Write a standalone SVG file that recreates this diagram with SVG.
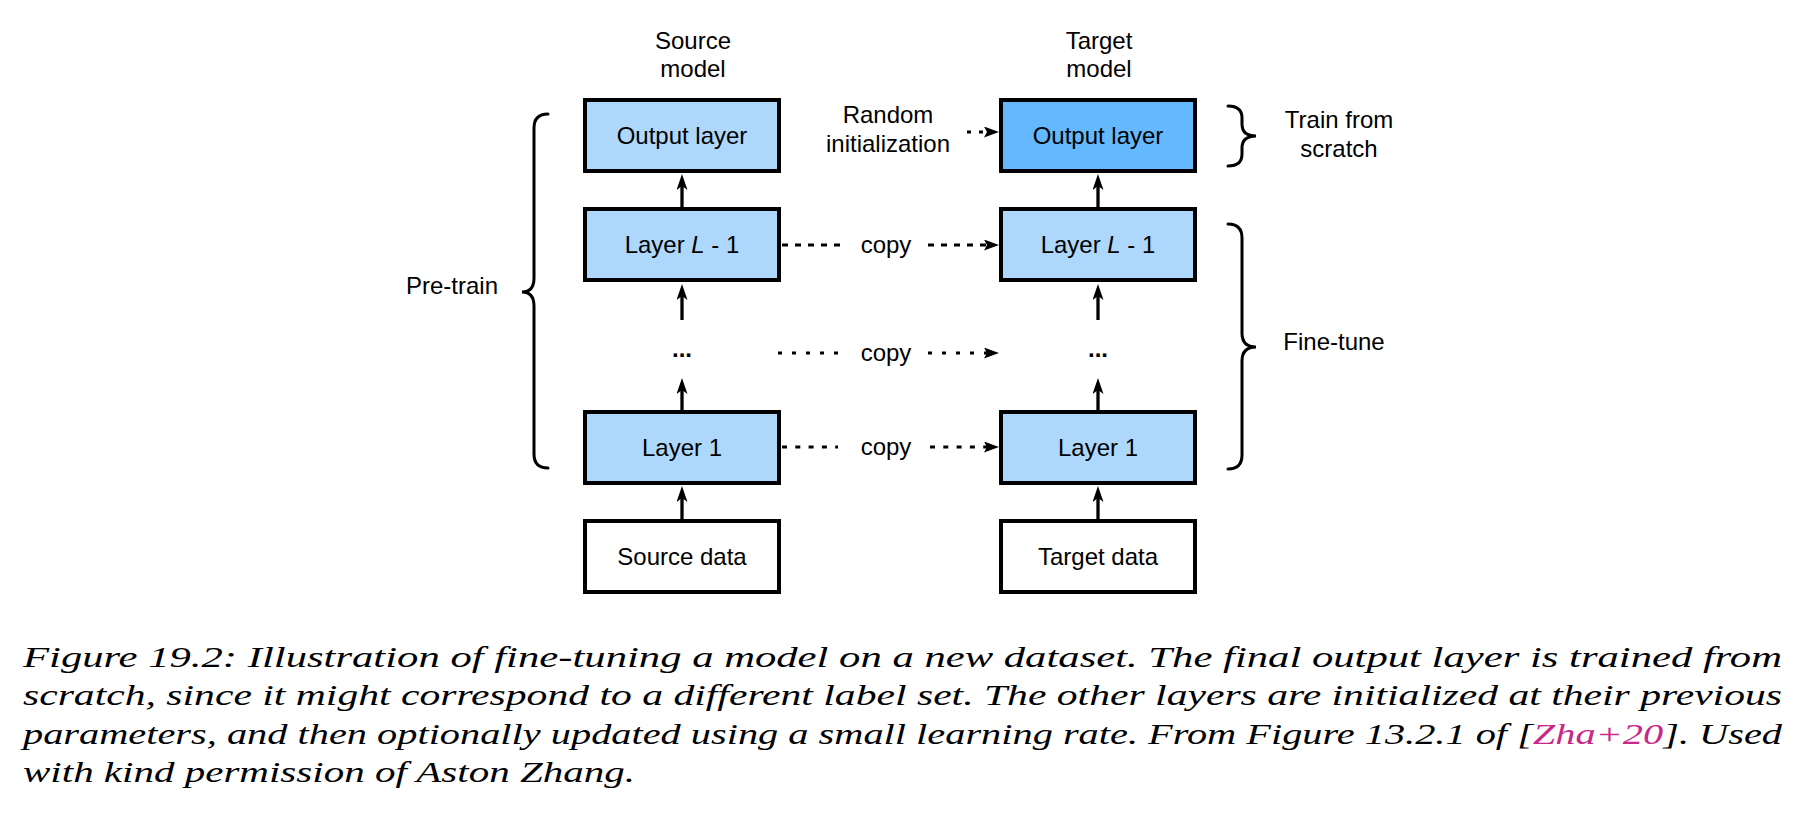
<svg xmlns="http://www.w3.org/2000/svg" width="1814" height="832" viewBox="0 0 1814 832">
<style>
.lbl{font-family:"Liberation Sans",Arial,sans-serif;font-size:24px;fill:#000;text-anchor:middle}
.box{stroke:#000;stroke-width:4}
.light{fill:#aed8fb}
.dark{fill:#64b8fd}
.white{fill:#fff}
.conn{stroke:#000;stroke-width:3.3;fill:none}
.cp{stroke:#000;stroke-width:3;fill:none}
.brace{stroke:#000;stroke-width:3;fill:none;stroke-linecap:round}
.cap{font-family:"Liberation Serif","Times New Roman",serif;font-style:italic;font-size:30px;fill:#000}
</style>
<defs>
<marker id="ah" viewBox="0 0 16 11" refX="8" refY="5.5" markerWidth="16" markerHeight="11" markerUnits="userSpaceOnUse" orient="auto">
<path d="M0,0 L16,5.5 L0,11 L4,5.5 Z" fill="#000"/>
</marker>
<marker id="ahs" viewBox="0 0 15 11" refX="5" refY="5.5" markerWidth="15" markerHeight="11" markerUnits="userSpaceOnUse" orient="auto">
<path d="M0,0 L15,5.5 L0,11 L3,5.5 Z" fill="#000"/>
</marker>
</defs>
<rect width="1814" height="832" fill="#fff"/>

<g id="headers">
<text class="lbl" x="693" y="49">Source</text>
<text class="lbl" x="693" y="77">model</text>
<text class="lbl" x="1099" y="49">Target</text>
<text class="lbl" x="1099" y="77">model</text>
</g>

<g id="src-output"><rect class="box light" x="585" y="100" width="194" height="71"/><text class="lbl" x="682" y="144">Output layer</text></g>
<g id="src-layerL1"><rect class="box light" x="585" y="209" width="194" height="71"/><text class="lbl" x="682" y="253">Layer <tspan font-style="italic">L</tspan> - 1</text></g>
<g id="src-dots"><text class="lbl" x="682" y="357" font-weight="bold">...</text></g>
<g id="src-layer1"><rect class="box light" x="585" y="412" width="194" height="71"/><text class="lbl" x="682" y="456">Layer 1</text></g>
<g id="src-data"><rect class="box white" x="585" y="521" width="194" height="71"/><text class="lbl" x="682" y="565">Source data</text></g>

<g id="tgt-output"><rect class="box dark" x="1001" y="100" width="194" height="71"/><text class="lbl" x="1098" y="144">Output layer</text></g>
<g id="tgt-layerL1"><rect class="box light" x="1001" y="209" width="194" height="71"/><text class="lbl" x="1098" y="253">Layer <tspan font-style="italic">L</tspan> - 1</text></g>
<g id="tgt-dots"><text class="lbl" x="1098" y="357" font-weight="bold">...</text></g>
<g id="tgt-layer1"><rect class="box light" x="1001" y="412" width="194" height="71"/><text class="lbl" x="1098" y="456">Layer 1</text></g>
<g id="tgt-data"><rect class="box white" x="1001" y="521" width="194" height="71"/><text class="lbl" x="1098" y="565">Target data</text></g>

<g id="labels">
<text class="lbl" x="888" y="123">Random</text>
<text class="lbl" x="888" y="152">initialization</text>
<text class="lbl" x="886" y="253">copy</text>
<text class="lbl" x="886" y="361">copy</text>
<text class="lbl" x="886" y="455">copy</text>
<text class="lbl" x="452" y="294">Pre-train</text>
<text class="lbl" x="1339" y="128">Train from</text>
<text class="lbl" x="1339" y="157">scratch</text>
<text class="lbl" x="1334" y="350">Fine-tune</text>
</g>

<g id="connectors">
<line class="conn" x1="682" y1="207" x2="682" y2="182" marker-end="url(#ah)"/>
<line class="conn" x1="682" y1="320" x2="682" y2="292" marker-end="url(#ah)"/>
<line class="conn" x1="682" y1="410" x2="682" y2="386" marker-end="url(#ah)"/>
<line class="conn" x1="682" y1="519" x2="682" y2="494" marker-end="url(#ah)"/>
<line class="conn" x1="1098" y1="207" x2="1098" y2="182" marker-end="url(#ah)"/>
<line class="conn" x1="1098" y1="320" x2="1098" y2="292" marker-end="url(#ah)"/>
<line class="conn" x1="1098" y1="410" x2="1098" y2="386" marker-end="url(#ah)"/>
<line class="conn" x1="1098" y1="519" x2="1098" y2="494" marker-end="url(#ah)"/>

<line class="cp" x1="967" y1="132" x2="989" y2="132" stroke-dasharray="4,8" marker-end="url(#ahs)"/>
<line class="cp" x1="782" y1="245" x2="842" y2="245" stroke-dasharray="6,7"/>
<line class="cp" x1="928" y1="245" x2="989" y2="245" stroke-dasharray="6,7" marker-end="url(#ahs)"/>
<line class="cp" x1="778" y1="353" x2="838" y2="353" stroke-dasharray="4,10"/>
<line class="cp" x1="928" y1="353" x2="989" y2="353" stroke-dasharray="4,10" marker-end="url(#ahs)"/>
<line class="cp" x1="782" y1="447" x2="838" y2="447" stroke-width="4" stroke-dasharray="5,8.3"/>
<line class="cp" x1="930" y1="447" x2="989" y2="447" stroke-width="4" stroke-dasharray="5,8.3" marker-end="url(#ahs)"/>

<path class="brace" d="M548,114 Q534,114 534,128 L534,278 Q534,292 522,292 Q534,292 534,306 L534,454 Q534,468 548,468"/>
<path class="brace" d="M1228,106 Q1242,106 1242,118 L1242,124 Q1242,136 1256,136 Q1242,136 1242,148 L1242,154 Q1242,166 1228,166"/>
<path class="brace" d="M1228,224 Q1242,224 1242,238 L1242,333 Q1242,347 1256,347 Q1242,347 1242,361 L1242,455 Q1242,469 1228,469"/>
</g>

<g id="caption">
<text class="cap" x="23" y="667" textLength="1759" lengthAdjust="spacingAndGlyphs">Figure 19.2: Illustration of fine-tuning a model on a new dataset. The final output layer is trained from</text>
<text class="cap" x="23" y="705" textLength="1759" lengthAdjust="spacingAndGlyphs">scratch, since it might correspond to a different label set. The other layers are initialized at their previous</text>
<text class="cap" x="23" y="744" textLength="1759" lengthAdjust="spacingAndGlyphs">parameters, and then optionally updated using a small learning rate. From Figure 13.2.1 of [<tspan fill="#c8288a">Zha+20</tspan>]. Used</text>
<text class="cap" x="23" y="782" textLength="612" lengthAdjust="spacingAndGlyphs">with kind permission of Aston Zhang.</text>
</g>
</svg>
